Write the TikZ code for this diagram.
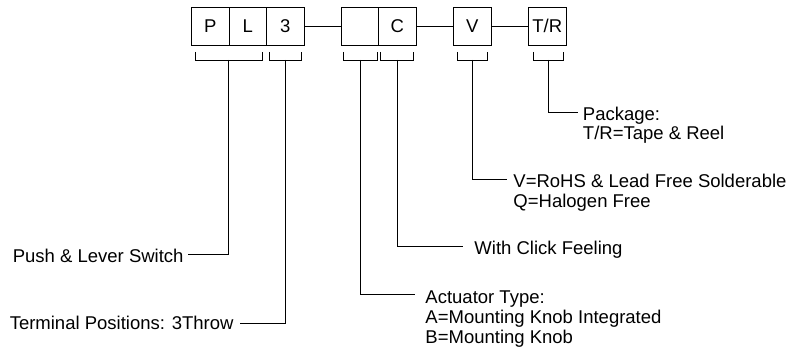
\documentclass[tikz,border=0pt]{standalone}
\usepackage{fontspec}
\setmainfont{Liberation Sans}
\begin{document}
\begin{tikzpicture}[x=1pt,y=-1pt,line width=0.9pt,
  box/.style={draw,minimum width=37.5pt,minimum height=38pt,inner sep=0pt,outer sep=0pt,anchor=west,font=\fontsize{18.5}{19.7}\selectfont},
  lbl/.style={inner sep=0pt,anchor=base west,font=\fontsize{18.5}{19.7}\selectfont},
  lble/.style={lbl,anchor=base east},
  brk/.style={line width=0.9pt}]
\useasboundingbox (0,0) rectangle (801,347);
% boxes
\node[box] (p) at (191.5,26) {P};
\node[box] (l) at (p.east) {L};
\node[box] (t) at (l.east) {3};
\node[box] (b) at (341,26) {};
\node[box] (c) at (b.east) {C};
\node[box] (v) at (453.5,26) {V};
\node[box] (r) at (528.5,26) {T/R};
\draw (t) -- (b);
\draw (c) -- (v);
\draw (v) -- (r);
% brackets
\draw[brk] (195,52) -- (195,60) -- (262,60) -- (262,52);
\draw[brk] (269.5,52) -- (269.5,60) -- (301.5,60) -- (301.5,52);
\draw[brk] (343.5,52) -- (343.5,60) -- (377,60) -- (377,52);
\draw[brk] (380,52) -- (380,60) -- (413.5,60) -- (413.5,52);
\draw[brk] (457,52) -- (457,60) -- (487.5,60) -- (487.5,52);
\draw[brk] (533,52) -- (533,60) -- (563,60) -- (563,52);
\coordinate (kpl) at (228.5,60);
\coordinate (kt) at (285.5,60);
\coordinate (kb) at (360,60);
\coordinate (kc) at (397,60);
\coordinate (kv) at (472,60);
\coordinate (kr) at (548,60);
% line ends
\coordinate (epl) at (188,254);
\coordinate (et) at (240,323);
\coordinate (eb) at (415,294);
\coordinate (ec) at (463,246);
\coordinate (ev) at (507,179);
\coordinate (er) at (578,112.7);
% labels
\node[lble] (lpl) at (184,262.5) {Push \& Lever Switch};
\node[lble] (lt) at (234,329.5) {Terminal Positions: 3Throw};
\node[lbl] (lb1) at (425,303.7) {Actuator Type:};
\node[lbl] (lb2) at (425,323.8) {A=Mounting Knob Integrated};
\node[lbl] (lb3) at (425,343.8) {B=Mounting Knob};
\node[lbl] (lc) at (474,254.5) {With Click Feeling};
\node[lbl] (lv1) at (513,188) {V=RoHS \& Lead Free Solderable};
\node[lbl] (lv2) at (513,207.6) {Q=Halogen Free};
\node[lbl] (lr1) at (582.5,120.3) {Package:};
\node[lbl] (lr2) at (582.5,140) {T/R=Tape \& Reel};
% connectors
\draw (kpl) |- (epl);
\draw (kt) |- (et);
\draw (kb) |- (eb);
\draw (kc) |- (ec);
\draw (kv) |- (ev);
\draw (kr) |- (er);
\end{tikzpicture}
\end{document}
